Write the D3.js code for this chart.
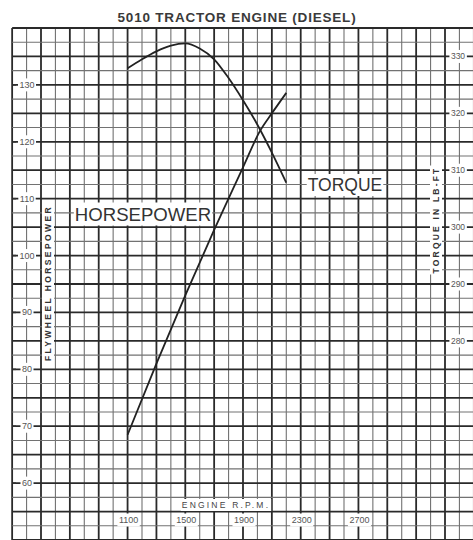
<!DOCTYPE html>
<html>
<head>
<meta charset="utf-8">
<script src="https://cdn.jsdelivr.net/npm/d3@7"></script>
<style>
  body { margin: 0; background: #fff; }
  svg { display: block; font-family: "Liberation Sans", Arial, sans-serif; }
</style>
</head>
<body>
<svg id="chart" width="473" height="540"></svg>
<script>
// values
var rpmTicks = [1100, 1500, 1900, 2300, 2700];
var hpTicks = [60, 70, 80, 90, 100, 110, 120, 130];
var torqueTicks = [280, 290, 300, 310, 320, 330];

var hpRpm = [1100, 1300, 1500, 1700, 1900, 2020, 2100, 2200];
var hpValues = [68.5, 81, 93, 104.5, 115.5, 122, 125, 128.6];

var torqueRpm = [1100, 1200, 1300, 1400, 1500, 1600, 1700, 1800, 1900, 2000, 2100, 2200];
var torqueValues = [327.9, 329.5, 330.9, 331.9, 332.3, 331.4, 329.5, 326.2, 322.3, 318.0, 313.1, 307.8];

var svg = d3.select("#chart");
var W = 473, H = 540;

var x = d3.scaleLinear().domain([500, 3300]).range([41, 445]);
var y = d3.scaleLinear().domain([50, 140]).range([540, 28]);
var y2 = d3.scaleLinear().domain([245, 335]).range([540, 28]);

// paper grid
var grid = svg.append("g").classed("grid", true);
var vLines = d3.range(300, 3501, 100);
var hLines = d3.range(50, 140.01, 2.5);

grid.selectAll(".v")
    .data(vLines)
  .enter().append("line")
    .attr("x1", d => x(d)).attr("x2", d => x(d))
    .attr("y1", y(140)).attr("y2", H)
    .attr("stroke", d => (d / 100) % 2 === 1 ? "#2a2a2a" : "#727272")
    .attr("stroke-width", d => (d / 100) % 2 === 1 ? 1.8 : 1.1);

grid.selectAll(".h")
    .data(hLines)
  .enter().append("line")
    .attr("x1", x(300)).attr("x2", W)
    .attr("y1", d => y(d)).attr("y2", d => y(d))
    .attr("stroke", d => d % 5 === 0 ? "#2a2a2a" : "#727272")
    .attr("stroke-width", d => d % 5 === 0 ? 1.8 : 1.1);

// curves
var line = d3.line().curve(d3.curveMonotoneX);

svg.append("path")
    .attr("d", line(hpRpm.map((r, i) => [x(r), y(hpValues[i])])))
    .attr("fill", "none")
    .attr("stroke", "#222")
    .attr("stroke-width", 1.8);

svg.append("path")
    .attr("d", line(torqueRpm.map((r, i) => [x(r), y2(torqueValues[i])])))
    .attr("fill", "none")
    .attr("stroke", "#222")
    .attr("stroke-width", 1.8);

// helper: text on a white patch
function label(g, txt, px, py, size, opts) {
  opts = opts || {};
  var t = g.append("text")
      .attr("x", px).attr("y", py)
      .attr("font-size", size)
      .attr("font-weight", opts.weight || "normal")
      .attr("letter-spacing", opts.spacing || 0)
      .attr("fill", opts.color || "#333")
      .style("text-anchor", opts.anchor || "middle")
      .attr("dominant-baseline", "central")
      .text(txt);
  if (opts.rotate) t.attr("transform", "rotate(-90," + px + "," + py + ")");
  var b = t.node().getBBox();
  var pad = opts.pad == null ? 1 : opts.pad;
  var r = g.insert("rect", "text")
      .attr("x", b.x - pad).attr("y", b.y - pad)
      .attr("width", b.width + 2 * pad).attr("height", b.height + 2 * pad)
      .attr("fill", "#fff");
  if (opts.rotate) r.attr("transform", "rotate(-90," + px + "," + py + ")");
  return t;
}

var lab = svg.append("g");

// left axis (horsepower)
hpTicks.forEach(function(v) {
  lab.append("line").attr("x1", 13).attr("x2", 16).attr("y1", y(v)).attr("y2", y(v))
      .attr("stroke", "#333").attr("stroke-width", 1.5);
  var g = lab.append("g");
  label(g, v, 27, y(v), 9, {color: "#555", pad: 1.5});
});

// right axis (torque)
torqueTicks.forEach(function(v) {
  var g = lab.append("g");
  label(g, v, 458, y2(v), 8.5, {color: "#555", pad: 1.5});
});

// bottom rpm labels
rpmTicks.forEach(function(v) {
  var g = lab.append("g");
  label(g, v, x(v) + 1, 520, 9, {color: "#555", pad: 1.5});
});

label(lab.append("g"), "ENGINE R.P.M.", 226, 505, 8.5, {color: "#444", spacing: 2.2, pad: 1});
label(lab.append("g"), "FLYWHEEL HORSEPOWER", 48, 283, 8.5,
      {color: "#333", weight: "bold", spacing: 2.4, rotate: true, pad: 1});
label(lab.append("g"), "TORQUE IN LB-FT", 436, 220, 8.5,
      {color: "#333", weight: "bold", spacing: 2.2, rotate: true, pad: 1});

label(lab.append("g"), "HORSEPOWER", 143, 214, 18.6, {color: "#333", pad: 1});
label(lab.append("g"), "TORQUE", 345, 185, 17.5, {color: "#333", pad: 1});

// title
svg.append("text")
    .attr("x", 237).attr("y", 17)
    .attr("font-size", 13.5)
    .attr("font-weight", "bold")
    .attr("letter-spacing", 0.8)
    .attr("fill", "#3a3a3a")
    .style("text-anchor", "middle")
    .attr("dominant-baseline", "central")
    .text("5010 TRACTOR ENGINE (DIESEL)");
</script>
</body>
</html>
